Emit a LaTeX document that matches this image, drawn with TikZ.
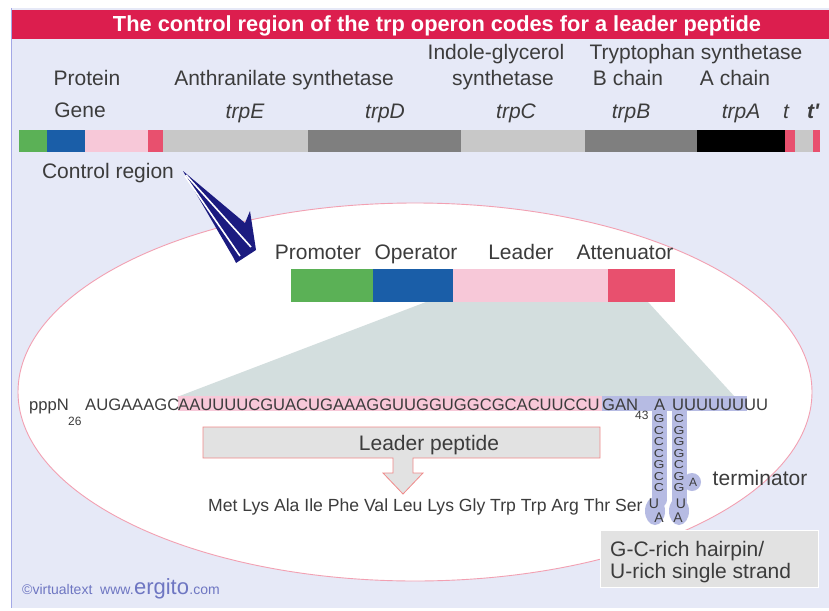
\documentclass[tikz,border=0pt]{standalone}
\usepackage{fontspec}
\setmainfont{Liberation Sans}
\definecolor{panel}{HTML}{E6E9F7}
\definecolor{panelline}{HTML}{A3A8E6}
\definecolor{titlered}{HTML}{DC1E4E}
\definecolor{cgreen}{HTML}{5BB156}
\definecolor{cblue}{HTML}{1A5EA8}
\definecolor{cpink}{HTML}{F7C8D8}
\definecolor{cred}{HTML}{E8506E}
\definecolor{clgray}{HTML}{C8C8C8}
\definecolor{cdgray}{HTML}{7F7F7F}
\definecolor{trap}{HTML}{D3DEDE}
\definecolor{lav}{HTML}{B6BBE3}
\definecolor{ellline}{HTML}{F2A0B2}
\definecolor{txt}{HTML}{3C3C3C}
\definecolor{boxgray}{HTML}{E2E2E2}
\definecolor{boxline}{HTML}{F08A8A}
\definecolor{navy}{HTML}{1B1B80}
\definecolor{foot}{HTML}{6E76C2}
\begin{document}
\begin{tikzpicture}[x=1pt,y=-1pt,
  lbl/.style={text=txt, font=\fontsize{21}{24}\selectfont, inner sep=0pt, anchor=base},
  gene/.style={text=txt, font=\fontsize{21}{24}\selectfont\itshape, inner sep=0pt, anchor=base},
  seq/.style={text=txt, font=\fontsize{16.6}{18}\selectfont, inner sep=0pt, anchor=base west},
  subs/.style={text=txt, font=\fontsize{12}{14}\selectfont, inner sep=0pt, anchor=base west},
  hp/.style={text=txt, font=\fontsize{14}{14}\selectfont, inner sep=0pt},
  pep/.style={text=txt, font=\fontsize{17.6}{20}\selectfont, inner sep=0pt, anchor=base west},
  footsm/.style={text=foot, font=\fontsize{14}{16}\selectfont, inner sep=0pt, anchor=base west},
  hpband/.style={line width=15pt, line cap=round, draw=lav}]
\useasboundingbox (0,0) rectangle (829,610);
\fill[white] (0,0) rectangle (829,610);
% panel
\fill[panel] (11,8) rectangle (829,608);
\draw[panelline, line width=1.5pt] (11.5,8) -- (11.5,608);
% title
\fill[titlered] (12,10) rectangle (829,39);
\node[text=white, font=\fontsize{21.8}{24}\selectfont\bfseries, inner sep=0pt, anchor=base] (title) at (437,32) {The control region of the trp operon codes for a leader peptide};
% protein labels
\node[lbl] (indole) at (496,59.5) {Indole-glycerol};
\node[lbl] (tryp) at (696,59.5) {Tryptophan synthetase};
\node[lbl] (prot) at (87,85.5) {Protein};
\node[lbl] (anth) at (284,85.5) {Anthranilate synthetase};
\node[lbl] (igs) at (503,85.5) {synthetase};
\node[lbl] (bch) at (628,85.5) {B chain};
\node[lbl] (ach) at (735,85.5) {A chain};
% gene labels
\node[lbl] (gene) at (80,117.5) {Gene};
\node[gene] (trpE) at (245,118) {trpE};
\node[gene] (trpD) at (385,118) {trpD};
\node[gene] (trpC) at (516,118) {trpC};
\node[gene] (trpB) at (631,118) {trpB};
\node[gene] (trpA) at (741,118) {trpA};
\node[gene] (tt) at (786,118) {t};
\node[gene, font=\fontsize{21}{24}\selectfont\itshape\bfseries] (ttp) at (813,118) {t\textquotesingle};
% operon bar
\fill[cgreen] (19,130) rectangle (47,152);
\fill[cblue] (47,130) rectangle (85,152);
\fill[cpink] (85,130) rectangle (148,152);
\fill[cred] (148,130) rectangle (163,152);
\fill[clgray] (163,130) rectangle (308,152);
\fill[cdgray] (308,130) rectangle (461,152);
\fill[clgray] (461,130) rectangle (585,152);
\fill[cdgray] (585,130) rectangle (697,152);
\fill[black] (697,130) rectangle (785,152);
\fill[cred] (785,130) rectangle (795,152);
\fill[clgray] (795,130) rectangle (813,152);
\fill[cred] (813,130) rectangle (820,152);
\node[lbl] (ctrl) at (108,178.5) {Control region};
% ellipse
\filldraw[fill=white, draw=ellline, line width=0.9pt] (415,392) ellipse [x radius=397pt, y radius=189pt];
% navy arrow
\coordinate (arrtail) at (183,171);
\fill[navy] (arrtail) -- (245,223) -- (250,211) -- (256,250) -- (236,263) -- (233,257) -- cycle;
\draw[white, line width=1.6pt] (186,175) -- (251,247);
\draw[white, line width=1.6pt] (185,176) -- (240,256);
% trapezoid
\fill[trap] (426,302) -- (648,302) -- (735,397) -- (177,397) -- cycle;
% control region bar
\fill[cgreen] (291,269) rectangle (373,302);
\fill[cblue] (373,269) rectangle (453,302);
\fill[cpink] (453,269) rectangle (608,302);
\fill[cred] (608,269) rectangle (675,302);
\node[lbl] (promoter) at (318,259) {Promoter};
\node[lbl] (operator) at (416,259) {Operator};
\node[lbl] (leader) at (521,259) {Leader};
\node[lbl] (atten) at (625,259) {Attenuator};
% sequence highlights
\fill[cpink] (178,396) rectangle (602,411);
\fill[lav] (602,396) rectangle (747,411);
\draw[hpband] (659,406) -- (659,500);
\draw[hpband] (679,406) -- (679,500);
\fill[lav] (692,482) circle [radius=9pt];
\fill[lav] (655,511) ellipse [x radius=10pt, y radius=14pt];
\fill[lav] (679,511) ellipse [x radius=10pt, y radius=14pt];
% sequence text
\node[seq] (pppn) at (29,410) {pppN};
\node[subs] (n26) at (68,425) {26};
\node[seq] (aug) at (85,410) {AUGAAAGC};
\node[seq] (lead) at (178,410) {AAUUUUCGUACUGAAAGGUUGGUGGCGCACUUCCU};
\node[seq] (gan) at (602,410) {GAN};
\node[subs] (n43) at (635,419) {43};
\node[seq] (a1) at (654,410) {A};
\node[seq] (uu) at (672,410) {UUUUUUUU};
% hairpin
\foreach \l [count=\i] in {G,C,C,C,G,C,C} \node[hp] (hl\i) at (659,407.5+11.5*\i) {\scalebox{1}[0.82]{\l}};
\foreach \l [count=\i] in {C,G,G,G,C,G,G} \node[hp] (hr\i) at (679,407.5+11.5*\i) {\scalebox{1}[0.82]{\l}};
\node[hp] (hlu) at (654,504) {U};
\node[hp] (hla) at (659,518) {A};
\node[hp] (hru) at (681,504) {U};
\node[hp] (hra) at (678,518) {A};
\node[hp, font=\fontsize{12}{12}\selectfont] (bulge) at (693,482) {A};
\node[lbl] (term) at (760,485) {terminator};
% leader peptide box with arrow
\filldraw[fill=boxgray, draw=boxline, line width=0.8pt] (203,427) -- (600,427) -- (600,458) -- (413,458) -- (413,473) -- (423,473) -- (403,494) -- (383,473) -- (393,473) -- (393,458) -- (203,458) -- cycle;
\node[lbl] (lpep) at (429,450) {Leader peptide};
\node[pep] (peptide) at (208,511) {Met Lys Ala Ile Phe Val Leu Lys Gly Trp Trp Arg Thr Ser};
% hairpin label box
\filldraw[fill=boxgray, draw=white, line width=0.8pt] (600,530) rectangle (818,587);
\node[lbl, anchor=base west] (gc1) at (610,556) {G-C-rich hairpin/};
\node[lbl, anchor=base west] (gc2) at (610,578) {U-rich single strand};
% footer
\node[footsm] (vt) at (22,594) {©virtualtext\ \ www.};
\node[text=foot, font=\fontsize{22}{24}\selectfont, inner sep=0pt, anchor=base west] (erg) at (vt.base east) {ergito};
\node[footsm] (com) at (erg.base east) {.com};
\end{tikzpicture}
\end{document}
